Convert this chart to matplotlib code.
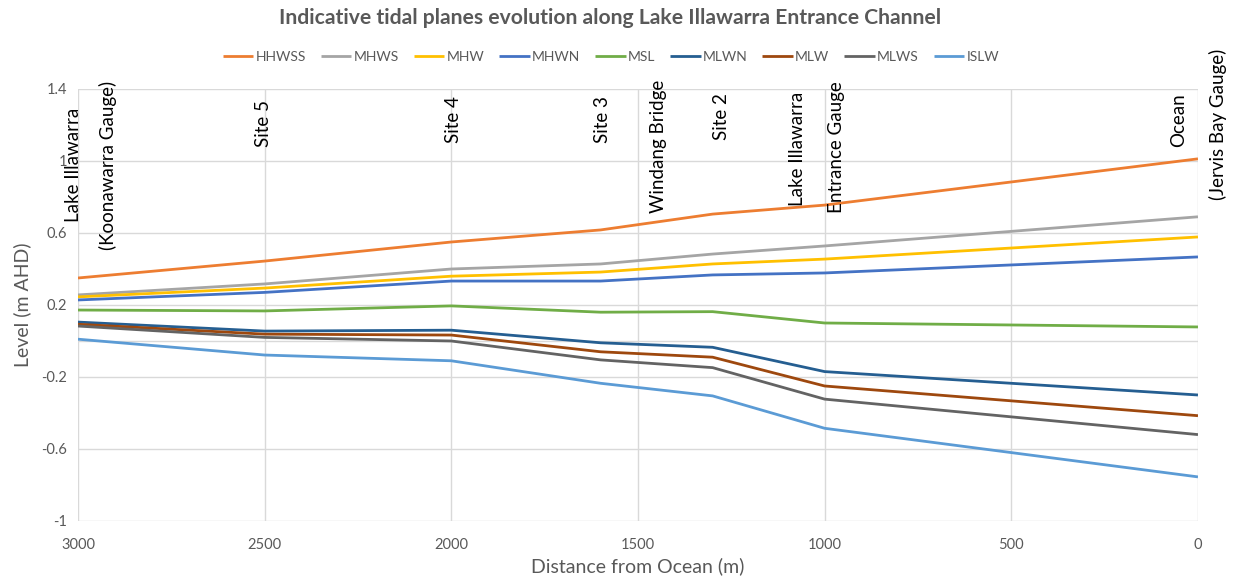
import matplotlib.pyplot as plt

# ── Data ──────────────────────────────────────────────────────
distance = [3000, 2500, 2000, 1600, 1300, 1000, 0]

series_names = ['HHWSS', 'MHWS', 'MHW', 'MHWN', 'MSL', 'MLWN', 'MLW', 'MLWS', 'ISLW']
hhwss = [0.35, 0.444, 0.55, 0.617, 0.705, 0.755, 1.012]
mhws = [0.256, 0.317, 0.40, 0.428, 0.483, 0.528, 0.69]
mhw = [0.245, 0.294, 0.36, 0.383, 0.428, 0.455, 0.578]
mhwn = [0.228, 0.27, 0.333, 0.333, 0.367, 0.378, 0.467]
msl = [0.172, 0.167, 0.195, 0.16, 0.163, 0.10, 0.078]
mlwn = [0.105, 0.055, 0.06, -0.01, -0.035, -0.17, -0.30]
mlw = [0.093, 0.038, 0.033, -0.06, -0.09, -0.25, -0.415]
mlws = [0.083, 0.02, 0.0, -0.105, -0.148, -0.323, -0.52]
islw = [0.01, -0.078, -0.11, -0.235, -0.305, -0.485, -0.755]

colors = ['#ED7D31', '#A5A5A5', '#FFC000', '#4472C4', '#70AD47',
          '#255E91', '#9E480E', '#636363', '#5B9BD5']

# site labels: (text, x position in m, bottom of text in m AHD)
site_labels = [
    ('Lake Illawarra', 3013, 0.661),
    ('(Koonawarra Gauge)', 2920, 0.506),
    ('Site 5', 2504, 1.078),
    ('Site 4', 1995, 1.10),
    ('Site 3', 1594, 1.10),
    ('Windang Bridge', 1446, 0.711),
    ('Site 2', 1275, 1.117),
    ('Lake Illawarra', 1074, 0.75),
    ('Entrance Gauge', 967, 0.711),
    ('Ocean', 53, 1.078),
    ('(Jervis Bay Gauge)', -54, 0.783),
]

plt.rcParams['font.family'] = ['Lato', 'DejaVu Sans']
grey = '#595959'
grid_c = '#D9D9D9'

fig = plt.figure(figsize=(12.34, 5.76), dpi=100)
ax = fig.add_axes([0.0632, 0.0955, 0.9076, 0.75])

all_series = [hhwss, mhws, mhw, mhwn, msl, mlwn, mlw, mlws, islw]
for name, vals, c in zip(series_names, all_series, colors):
    ax.plot(distance, vals, color=c, lw=2, label=name, solid_capstyle='butt')

ax.set_xlim(3000, 0)
ax.set_ylim(-1, 1.4)
ax.set_xticks([3000, 2500, 2000, 1500, 1000, 500, 0])
ax.set_yticks([-1, -0.6, -0.2, 0.2, 0.6, 1, 1.4])
ax.set_yticklabels(['-1', '-0.6', '-0.2', '0.2', '0.6', '1', '1.4'])
ax.grid(True, color=grid_c, lw=1)
ax.axhline(0, color=grid_c, lw=1, zorder=0.5)
ax.set_axisbelow(True)
for s in ax.spines.values():
    s.set_visible(False)
ax.tick_params(length=0, colors=grey, labelsize=10.5, pad=12)
ax.tick_params(axis='y', pad=8)

ax.set_xlabel('Distance from Ocean (m)', fontsize=14, color=grey, labelpad=4)
ax.set_ylabel('Level (m AHD)', fontsize=14, color=grey, labelpad=7)

for txt, x, y in site_labels:
    ax.text(x, y, txt, rotation=90, ha='center', va='bottom', fontsize=13.5,
            color='black', clip_on=False)

fig.text(0.494, 0.969, 'Indicative tidal planes evolution along Lake Illawarra Entrance Channel',
         ha='center', va='center', fontsize=15.2, fontweight='bold', color=grey)

ax.legend(loc='center', bbox_to_anchor=(0.495, 0.901), bbox_transform=fig.transFigure,
          ncol=9, frameon=False, fontsize=10, labelcolor=grey, handlelength=2.2,
          columnspacing=1.08, handletextpad=0.15)

plt.savefig('out.png', dpi=100)
plt.close()
